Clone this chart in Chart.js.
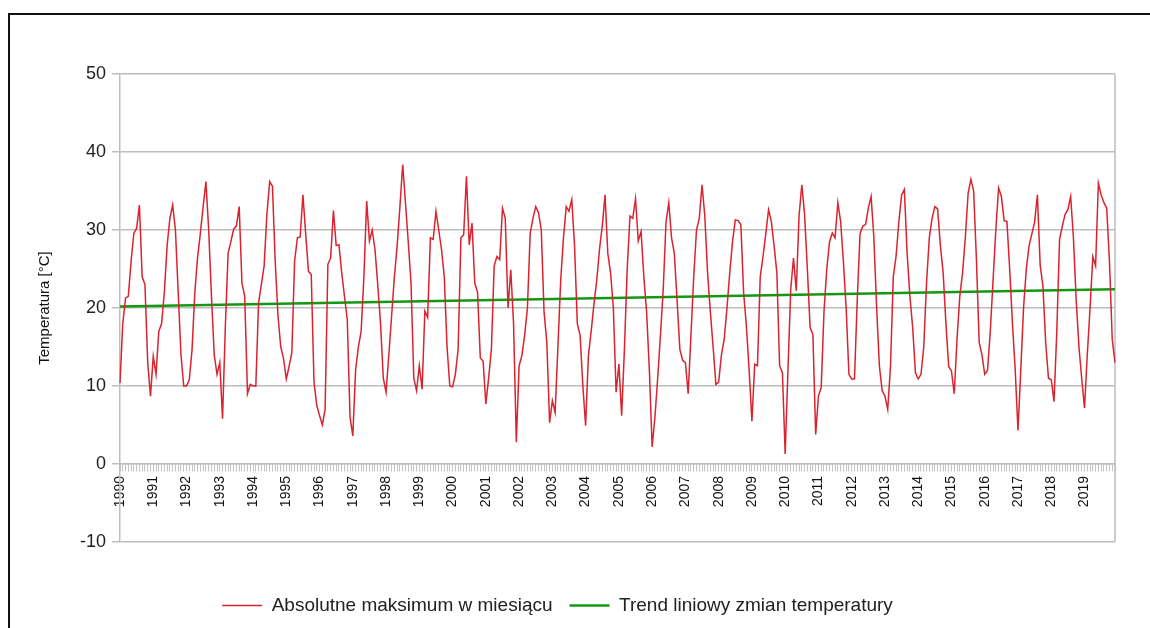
<!DOCTYPE html>
<html>
<head>
<meta charset="utf-8">
<title>Absolutne maksimum temperatury</title>
<script src="https://cdn.jsdelivr.net/npm/chart.js@4.4.1/dist/chart.umd.min.js"></script>
<style>
  html, body { margin: 0; padding: 0; background: #fff; }
  #wrap { position: relative; width: 1150px; height: 628px; overflow: hidden; }
  #frame { position: absolute; left: 8px; top: 13px; width: 1200px; height: 700px;
           border-left: 2px solid #111; border-top: 2px solid #111; }
  #chart { position: absolute; left: 0; top: 0; }
</style>
</head>
<body>
<div id="wrap">
  <div id="frame"></div>
  <canvas id="chart" width="1150" height="628"></canvas>
</div>
<script>
// tick labels on the x axis (one per January)
const years = ['1990', '1991', '1992', '1993', '1994', '1995', '1996', '1997', '1998', '1999',
               '2000', '2001', '2002', '2003', '2004', '2005', '2006', '2007', '2008', '2009',
               '2010', '2011', '2012', '2013', '2014', '2015', '2016', '2017', '2018', '2019'];
const months = ['01', '02', '03', '04', '05', '06', '07', '08', '09', '10', '11', '12'];

// monthly absolute maximum temperature [°C]
const maxima1990s = [
  10.4, 18, 21.3, 21.5, 26, 29.6, 30.2, 33.2, 24, 23, 13, 8.7,
  13.8, 11.5, 17, 18, 22, 28, 31.5, 33.2, 30, 22, 14, 10,
  10, 10.8, 14.7, 22, 26.5, 29.6, 33, 36.2, 30, 21.5, 14, 11.5,
  13, 5.8, 17.5, 27, 28.5, 30.1, 30.5, 33, 23.2, 21.5, 9, 10.2,
  10, 10, 20.7, 23, 25.4, 32, 36.2, 35.6, 26, 19, 15, 13.5,
  10.9, 12.5, 14.3, 26, 29, 29.1, 34.5, 29.5, 24.7, 24.3, 10.5, 7.5,
  6.2, 5, 7, 25.6, 26.4, 32.5, 28, 28.1, 24.5, 21.5, 18.5, 6,
  3.6, 12, 15, 17, 24, 33.7, 28.6, 30, 27.5, 23, 18, 11,
  9.2, 14, 19, 24, 28, 33, 38.4, 33.5, 28.5, 23.2, 11, 9.4,
  12.6, 9.6, 19.6, 18.8, 29, 28.8, 32.4, 30, 27.5, 24, 15, 10
];
const maxima2000s = [
  9.9, 11.5, 14.7, 29, 29.4, 36.9, 28.1, 30.9, 23.2, 22, 13.6, 13.2,
  7.7, 11, 14.7, 25.4, 26.6, 26.2, 32.8, 31.5, 20, 24.9, 18, 2.8,
  12.6, 13.9, 16.5, 20, 29.6, 31.5, 33, 32.2, 30, 19.5, 15.6, 5.3,
  8.1, 6.6, 15, 23.5, 29, 33, 32.4, 33.9, 28, 18, 16.5, 10,
  4.9, 13.9, 17, 20.5, 23.5, 27.5, 30.5, 34.5, 27, 24.5, 20, 9.2,
  12.8, 6.2, 14.7, 25, 31.8, 31.5, 34, 28.6, 29.8, 24, 19.5, 12,
  2.2, 6, 11, 16.5, 22.4, 31, 33.5, 29, 27, 21, 14.7, 13.3,
  13, 9, 16.5, 24, 30, 31.5, 35.8, 31.8, 24.5, 19.5, 15, 10.2,
  10.5, 14, 16, 20, 24.5, 28.5, 31.3, 31.2, 30.7, 22, 17.7, 12,
  5.5, 12.8, 12.6, 24, 26.6, 29.5, 32.6, 31.1, 28, 24.5, 12.6, 11.7
];
const maxima2010s = [
  1.3, 12, 22.4, 26.4, 22.2, 31.8, 35.8, 32, 25, 17.5, 16.6, 3.8,
  8.7, 9.8, 19.5, 25, 28.5, 29.6, 29, 33.5, 31.1, 26, 20, 11.5,
  10.9, 10.9, 21, 29.5, 30.5, 30.7, 32.8, 34.3, 29, 20, 12.5, 9.4,
  8.7, 7, 12.5, 24, 26.6, 31, 34.5, 35.2, 27, 21.5, 17.5, 11.7,
  10.9, 11.5, 15, 23.2, 29, 31.5, 33, 32.7, 28, 24.5, 18, 12.5,
  11.9, 9, 16, 21.5, 24.5, 29, 34.7, 36.5, 35, 26.2, 15.6, 14,
  11.5, 12, 17, 23.5, 30, 35.4, 34.3, 31.2, 31.1, 25, 18, 12,
  4.3, 12, 20, 25, 28, 29.5, 31, 34.5, 25.5, 22.8, 15.5, 11,
  10.8, 8, 17, 28.8, 30.5, 32, 32.6, 34.3, 29, 21, 15, 10.9,
  7.2, 14, 20, 26.6, 25.4, 36, 34.5, 33.5, 32.8, 26, 16, 13
];

// linear trend: value at first and last month
const trendEnds = [20.2, 22.4];

const categories = years.flatMap(y => months.map(m => y + '-' + m));
const maxima = maxima1990s.concat(maxima2000s, maxima2010s);

const FONT = "'Liberation Sans', Arial, sans-serif";

// grey right edge of the plot area
const plotFrame = {
  id: 'plotFrame',
  beforeDatasetsDraw(chart) {
    const { ctx, chartArea } = chart;
    ctx.save();
    ctx.strokeStyle = '#bdbdbd';
    ctx.lineWidth = 1.5;
    ctx.beginPath();
    ctx.moveTo(chartArea.right, chartArea.top);
    ctx.lineTo(chartArea.right, chartArea.bottom);
    ctx.stroke();
    ctx.restore();
  }
};

new Chart(document.getElementById('chart').getContext('2d'), {
  type: 'line',
  data: {
    labels: categories,
    datasets: [{
      label: 'Absolutne maksimum w miesiącu',
      data: maxima,
      borderColor: '#d9232e',
      backgroundColor: '#d9232e',
      borderWidth: 1.5,
      pointRadius: 0,
      tension: 0
    }, {
      label: 'Trend liniowy zmian temperatury',
      data: [
        { x: categories[0], y: trendEnds[0] },
        { x: categories[categories.length - 1], y: trendEnds[1] }
      ],
      borderColor: '#119911',
      backgroundColor: '#119911',
      borderWidth: 2.5,
      pointRadius: 0
    }]
  },
  options: {
    responsive: false,
    animation: false,
    layout: { padding: { left: 0, top: 74, right: 35, bottom: 3 } },
    scales: {
      x: {
        type: 'category',
        position: { y: 0 },
        offset: false,
        grid: {
          drawOnChartArea: false,
          drawTicks: true,
          tickLength: 7,
          color: '#c4c4c4',
          lineWidth: 1
        },
        border: { display: true, color: '#bdbdbd', width: 1.5 },
        ticks: {
          autoSkip: false,
          minRotation: 90,
          maxRotation: 90,
          padding: 5,
          color: '#111',
          font: { family: FONT, size: 14 },
          callback: (val, idx) => (idx % 12 === 0 ? years[idx / 12] : '')
        }
      },
      y: {
        position: 'left',
        min: -10,
        max: 50,
        afterFit: s => { s.width = 120; },
        ticks: {
          stepSize: 10,
          padding: 6,
          color: '#222',
          font: { family: FONT, size: 18 }
        },
        grid: { color: '#bdbdbd', lineWidth: 1.5, tickLength: 8 },
        border: { color: '#bdbdbd', width: 1.5 },
        title: {
          display: true,
          text: 'Temperatura [°C]',
          color: '#111',
          padding: { top: 36, bottom: 0 },
          font: { family: FONT, size: 15 }
        }
      },
      // empty spacer between the plot and the legend
      gap: {
        type: 'linear',
        position: 'bottom',
        display: true,
        afterFit: s => { s.height = 37; },
        ticks: { display: false },
        grid: { display: false },
        border: { display: false }
      }
    },
    plugins: {
      legend: {
        position: 'bottom',
        labels: {
          usePointStyle: true,
          pointStyle: 'line',
          pointStyleWidth: 40,
          padding: 17,
          color: '#222',
          font: { family: FONT, size: 19 }
        }
      },
      tooltip: { enabled: false }
    }
  },
  plugins: [plotFrame]
});
</script>
</body>
</html>
